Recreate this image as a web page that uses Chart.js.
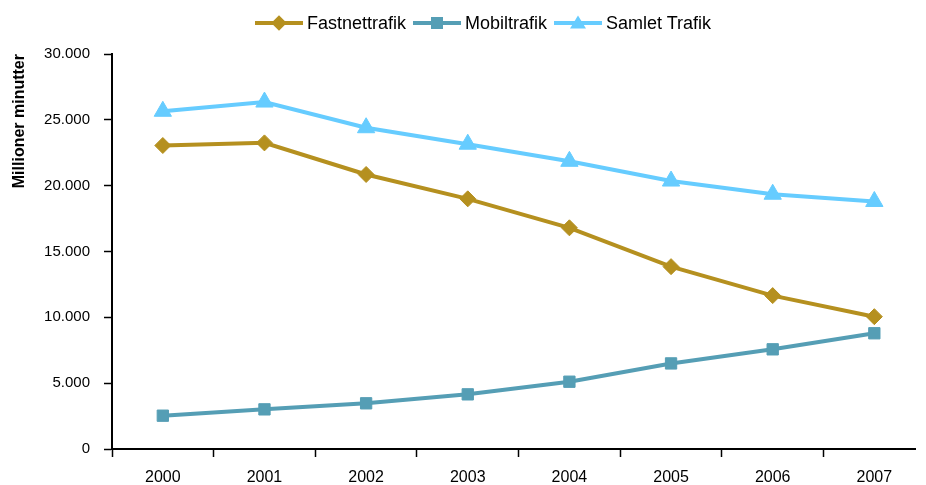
<!DOCTYPE html>
<html lang="da">
<head>
  <meta charset="UTF-8">
  <title>Fastnet- og mobiltrafik</title>
  <script src="https://cdn.jsdelivr.net/npm/chart.js"></script>
  <style>
    body {
      margin: 0;
      background: #fff;
      overflow: hidden;
      font-family: 'Liberation Sans', Arial, sans-serif;
    }

    .wrap {
      position: relative;
      width: 926px;
      height: 485px;
    }

    #trafik {
      display: block;
    }

    /* legend above the chart */
    #legend {
      position: absolute;
      top: 12px;
      left: 255px;
      display: flex;
      gap: 7px;
      z-index: 2;
    }

    .item {
      display: flex;
      align-items: center;
      height: 22px;
      font-size: 18px;
      color: #000;
    }

    .swatch {
      position: relative;
      width: 48px;
      height: 4px;
      margin-right: 4px;
    }

    .mk {
      position: absolute;
      left: 50%;
      top: 50%;
    }
  </style>
</head>

<body>
  <div class="wrap">
    <div id="legend"></div>
    <canvas id="trafik" width="926" height="485"></canvas>
  </div>
  <script>
    // data (millioner minutter)
    const years = [2000, 2001, 2002, 2003, 2004, 2005, 2006, 2007];
    const fastnet = [23050, 23250, 20850, 19000, 16800, 13850, 11650, 10050];
    const mobil = [2530, 3010, 3470, 4150, 5110, 6500, 7570, 8790];
    const samlet = [25650, 26350, 24400, 23150, 21850, 20350, 19350, 18800];

    const names = ['Fastnettrafik', 'Mobiltrafik', 'Samlet Trafik'];
    const colors = ['#B5901F', '#559EB5', '#66CCFF'];
    const yTicks = [0, 5000, 10000, 15000, 20000, 25000, 30000];

    Chart.defaults.font.family = "'Liberation Sans', Arial, sans-serif";
    Chart.defaults.color = '#000';

    // tusindtals-punktum: 25000 -> 25.000
    const fmt = v => String(v).replace(/\B(?=(\d{3})+(?!\d))/g, '.');
    const pts = arr => arr.map((v, i) => ({ x: years[i], y: v }));

    // HTML legend: linje + markør
    const legend = document.getElementById('legend');
    names.forEach((name, i) => {
      const item = document.createElement('div');
      item.className = 'item';
      const sw = document.createElement('span');
      sw.className = 'swatch';
      sw.style.background = colors[i];
      const mk = document.createElement('span');
      mk.className = 'mk';
      if (i === 0) {
        mk.style.cssText += `width:11px;height:11px;background:${colors[i]};transform:translate(-50%,-50%) rotate(45deg);`;
      } else if (i === 1) {
        mk.style.cssText += `width:12px;height:12px;background:${colors[i]};transform:translate(-50%,-50%);`;
      } else {
        mk.style.cssText += `width:0;height:0;border-left:8px solid transparent;border-right:8px solid transparent;border-bottom:13px solid ${colors[i]};transform:translate(-50%,-58%);`;
      }
      sw.appendChild(mk);
      item.appendChild(sw);
      item.appendChild(document.createTextNode(name));
      legend.appendChild(item);
    });

    new Chart(document.getElementById('trafik'), {
      type: 'line',
      data: {
        datasets: [
          {
            label: names[0], data: pts(fastnet), borderColor: colors[0], backgroundColor: colors[0],
            borderWidth: 4, pointStyle: 'rectRot', pointRadius: 8, pointBorderWidth: 1
          },
          {
            label: names[1], data: pts(mobil), borderColor: colors[1], backgroundColor: colors[1],
            borderWidth: 4, pointStyle: 'rect', pointRadius: 8, pointBorderWidth: 1
          },
          {
            label: names[2], data: pts(samlet), borderColor: colors[2], backgroundColor: colors[2],
            borderWidth: 4, pointStyle: 'triangle', pointRadius: 10, pointBorderWidth: 1
          }
        ]
      },
      options: {
        responsive: false,
        animation: false,
        layout: { padding: { top: 54, right: 1, bottom: 0, left: 0 } },
        plugins: {
          legend: { display: false },
          tooltip: { enabled: false }
        },
        scales: {
          x: {
            type: 'linear',
            // aksen fortsætter lidt ud over højre kant, som i originalen
            min: 1999.5,
            max: 2007.4,
            afterBuildTicks: s => { s.ticks = years.map(v => ({ value: v })); },
            grid: { offset: true, drawOnChartArea: false, tickLength: 8, tickColor: '#000', tickWidth: 1.5 },
            border: { color: '#000', width: 2 },
            ticks: { padding: 11, autoSkip: false, maxRotation: 0, font: { size: 16 }, callback: v => String(v) },
            afterFit: s => { s.height = 36; s.paddingLeft = 0; s.paddingRight = 0; }
          },
          y: {
            min: 0,
            max: 30000,
            afterBuildTicks: s => { s.ticks = yTicks.map(v => ({ value: v })); },
            grid: { drawOnChartArea: false, tickLength: 8, tickColor: '#000', tickWidth: 1.5 },
            border: { color: '#000', width: 2 },
            ticks: { padding: 14, font: { size: 15 }, callback: v => fmt(v) },
            title: {
              display: true,
              text: 'Millioner minutter',
              align: 'end',
              font: { size: 16, weight: 'bold' },
              padding: { top: 10, bottom: 0 }
            },
            afterFit: s => { s.width = 112; }
          }
        }
      }
    });
  </script>
</body>

</html>
